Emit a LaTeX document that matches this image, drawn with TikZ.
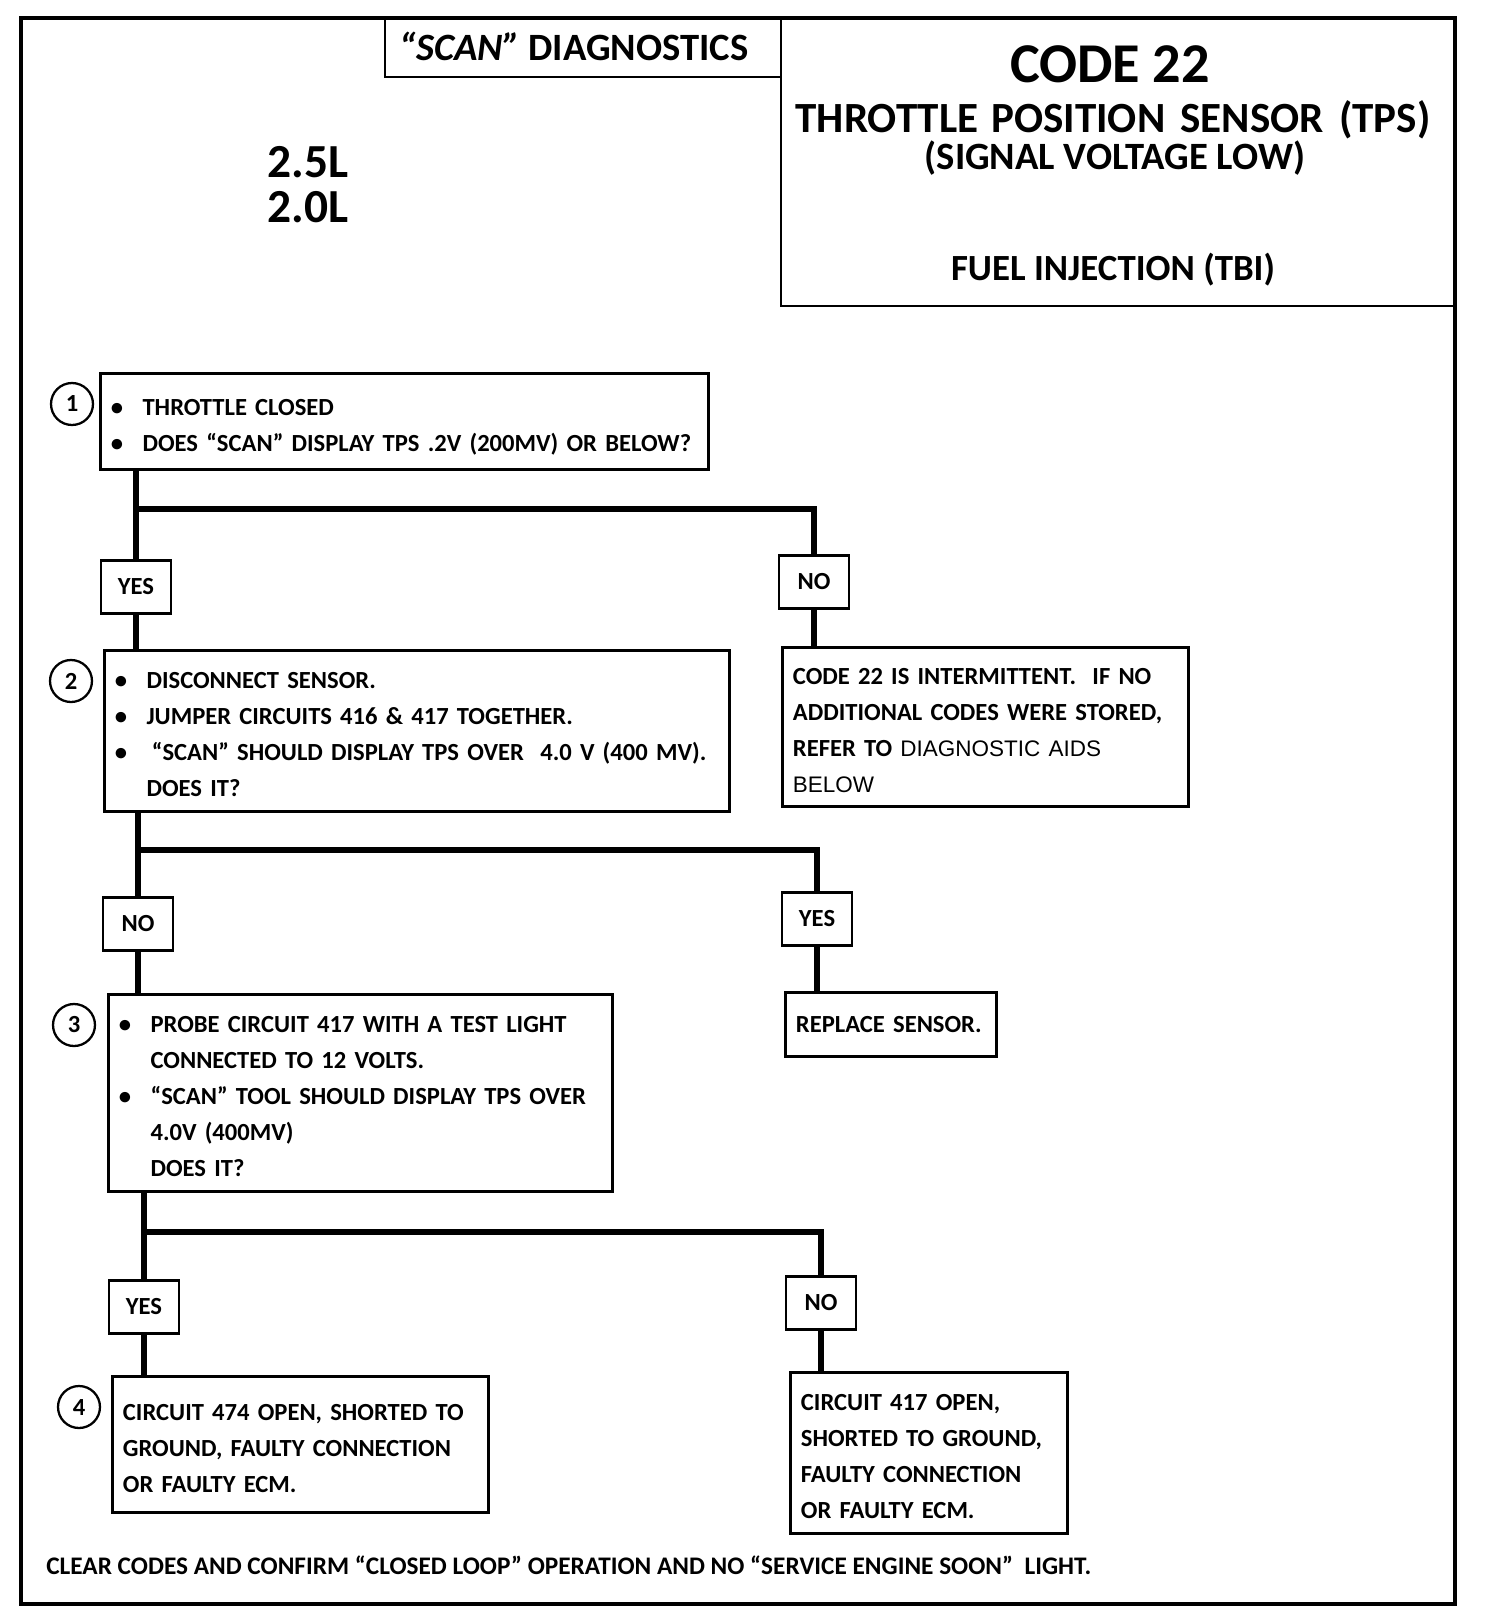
\documentclass[tikz,border=0pt]{standalone}
\usepackage{fontspec}
\setmainfont{Carlito}
\newfontfamily\plainfont{Liberation Sans}
\newcommand{\stepfont}{\bfseries\fontsize{14}{20.5}\selectfont}
\newcommand{\aidfont}{\plainfont\mdseries\fontsize{12.8}{20.5}\selectfont}
\newcommand{\bul}{\makebox[18pt][l]{\textbullet}}
\newcommand{\ind}{\hspace*{18pt}}
\newcommand{\steplines}[1]{\begin{tabular}{@{}l@{}}\rule{0pt}{19.5pt}#1\end{tabular}}
\begin{document}
\begin{tikzpicture}[x=0.02cm,y=-0.02cm,
    stepbox/.style={draw,line width=1.6pt,anchor=north west,align=left,inner xsep=6pt,inner ysep=0pt,font=\stepfont},
    answer/.style={draw,line width=1.6pt,minimum width=1.4cm,minimum height=1.06cm,inner sep=0pt,font=\stepfont},
    stepnum/.style={circle,draw,line width=1.3pt,minimum size=0.84cm,inner sep=0pt,font=\stepfont},
    flow/.style={line width=3.4pt},
    title/.style={inner sep=0pt,font=\bfseries}]
  \useasboundingbox (0,0) rectangle (1504,1612);
  % frame and header
  \draw[line width=2.8pt] (21,18) rectangle (1455,1604);
  \draw[line width=1.6pt] (385,18) rectangle (781,77);
  \draw[line width=1.6pt] (781,18) rectangle (1455,306);
  \node[title,font=\bfseries\fontsize{22}{24}\selectfont] (scan) at (574,46) {{\itshape “SCAN”} DIAGNOSTICS};
  \node[title,font=\bfseries\fontsize{27}{25.6}\selectfont,align=center] (engine) at (308,185) {2.5L\\2.0L};
  \node[title,font=\bfseries\fontsize{32}{36}\selectfont] (code) at (1110,64) {CODE 22};
  \node[title,font=\bfseries\fontsize{24.5}{28}\selectfont] (tps) at (1113,120)
    {THROTTLE\hspace{0.3em}POSITION\hspace{0.35em}SENSOR\hspace{0.35em}(TPS)};
  \node[title,font=\bfseries\fontsize{22}{24}\selectfont] (low) at (1115,158) {(SIGNAL VOLTAGE LOW)};
  \node[title,font=\bfseries\fontsize{21}{24}\selectfont] (tbi) at (1113,270) {FUEL INJECTION (TBI)};

  % steps
  \node[stepbox,text width=334pt,minimum height=1.92cm] (q1) at (99,372)
    {\steplines{\bul THROTTLE CLOSED\\\bul DOES “SCAN” DISPLAY TPS .2V (200MV) OR BELOW?}};
  \node[stepnum] (n1) at (72,404) {1};
  \node[answer] (yes1) at (136,587) {YES};
  \node[answer] (no1) at (814,582) {NO};
  \node[stepbox,text width=343.7pt,minimum height=3.22cm] (q2) at (103,649)
    {\steplines{\bul DISCONNECT SENSOR.\\\bul JUMPER CIRCUITS 416 \& 417 TOGETHER.\\\bul\hspace{3pt}“SCAN” SHOULD DISPLAY TPS OVER\ \ 4.0 V (400 MV).\\\ind DOES IT?}};
  \node[stepnum] (n2) at (71,681) {2};
  \node[stepbox,text width=219pt,minimum height=3.18cm] (intermit) at (781,646)
    {\steplines{CODE 22 IS INTERMITTENT.\ \ IF NO\\ADDITIONAL CODES WERE STORED,\\REFER TO {\aidfont DIAGNOSTIC AIDS}\\{\aidfont BELOW}}};
  \node[answer] (no2) at (138,924) {NO};
  \node[answer] (yes2) at (817,919) {YES};
  \node[stepbox,text width=274.8pt,minimum height=3.94cm] (q3) at (107,993)
    {\steplines{\bul PROBE CIRCUIT 417 WITH A TEST LIGHT\\\ind CONNECTED TO 12 VOLTS.\\\bul “SCAN” TOOL SHOULD DISPLAY TPS OVER\\\ind 4.0V (400MV)\\\ind DOES IT?}};
  \node[stepnum] (n3) at (74,1025) {3};
  \node[stepbox,text width=108pt,minimum height=1.28cm] (replace) at (784,991) {REPLACE SENSOR.};
  \node[answer] (yes3) at (144,1307) {YES};
  \node[answer] (no3) at (821,1303) {NO};
  \node[stepbox,text width=202pt,minimum height=2.72cm] (q4) at (111,1375)
    {\steplines{CIRCUIT 474 OPEN, SHORTED TO\\GROUND, FAULTY CONNECTION\\OR FAULTY ECM.}};
  \node[stepnum] (n4) at (79,1407) {4};
  \node[stepbox,text width=145.6pt,minimum height=3.22cm] (fault) at (789,1371)
    {\steplines{CIRCUIT 417 OPEN,\\SHORTED TO GROUND,\\FAULTY CONNECTION\\OR FAULTY ECM.}};
  \node[anchor=west,inner sep=0pt,font=\bfseries\fontsize{14.4}{20}\selectfont] (clear) at (46,1565)
    {CLEAR CODES AND CONFIRM “CLOSED LOOP” OPERATION AND NO “SERVICE ENGINE SOON”\ \ LIGHT.};

  % connectors
  \coordinate (b1) at (136,509);
  \coordinate (b2) at (138,850);
  \coordinate (b3) at (144,1232);
  \draw[flow] (q1.south -| yes1) -- (yes1.north);
  \draw[flow] (yes1.south) -- (yes1.south |- q2.north);
  \draw[flow] (b1) -| (no1.north);
  \draw[flow] (no1.south) -- (no1.south |- intermit.north);
  \draw[flow] (q2.south -| no2) -- (no2.north);
  \draw[flow] (no2.south) -- (no2.south |- q3.north);
  \draw[flow] (b2) -| (yes2.north);
  \draw[flow] (yes2.south) -- (yes2.south |- replace.north);
  \draw[flow] (q3.south -| yes3) -- (yes3.north);
  \draw[flow] (yes3.south) -- (yes3.south |- q4.north);
  \draw[flow] (b3) -| (no3.north);
  \draw[flow] (no3.south) -- (no3.south |- fault.north);
\end{tikzpicture}
\end{document}
